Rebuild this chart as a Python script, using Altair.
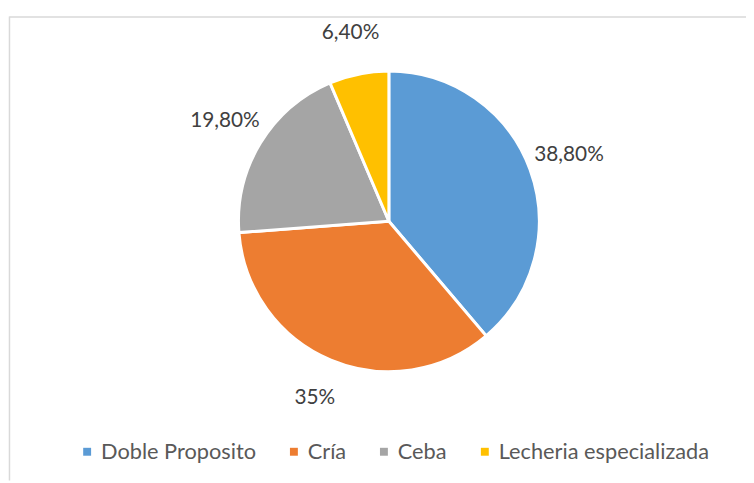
import altair as alt
import pandas as pd

categories = ["Doble Proposito", "Cría", "Ceba", "Lecheria especializada"]
values = [38.8, 35.0, 19.8, 6.4]
labels = ["38,80%", "35%", "19,80%", "6,40%"]
colors = ["#5B9BD5", "#ED7D31", "#A5A5A5", "#FFC000"]

df = pd.DataFrame({
    "categoria": categories,
    "valor": values,
    "etiqueta": labels,
    "orden": list(range(len(categories))),
})

W, H = 746, 475
CX, CY = 385, 213

frame_v = alt.Chart(alt.Data(values=[{}])).mark_rule(color="#d9d9d9", strokeWidth=1.5).encode(
    x=alt.value(1.5), y=alt.value(6), y2=alt.value(H)
)
frame_h = alt.Chart(alt.Data(values=[{}])).mark_rule(color="#d9d9d9", strokeWidth=1.5).encode(
    x=alt.value(1.5), x2=alt.value(W), y=alt.value(6.5)
)

base = alt.Chart(df).encode(
    theta=alt.Theta("valor:Q", stack=True),
    order=alt.Order("orden:Q"),
)

pie = base.mark_arc(outerRadius=152, stroke="white", strokeWidth=3).encode(
    x=alt.value(CX),
    y=alt.value(CY),
    color=alt.Color(
        "categoria:N",
        scale=alt.Scale(domain=categories, range=colors),
        sort=categories,
        legend=alt.Legend(
            title=None,
            orient="none",
            direction="horizontal",
            legendX=69,
            legendY=435,
            symbolType="square",
            symbolSize=64,
            symbolStrokeWidth=0,
            labelFont="Lato",
            labelFontSize=22,
            labelColor="#595959",
            labelOffset=3,
            labelLimit=0,
            columnPadding=27,
            padding=0,
        ),
    ),
)

text = base.mark_text(radius=194, font="Lato", fontSize=21, color="#404040").encode(
    x=alt.value(CX),
    y=alt.value(CY),
    text="etiqueta:N",
)

chart = alt.layer(frame_v, frame_h, pie, text).properties(
    width=W,
    height=H,
    autosize=alt.AutoSizeParams(type="none"),
    padding=0,
).configure_view(stroke=None)

chart.save("out.html", embed_options={"renderer": "svg", "actions": False})
